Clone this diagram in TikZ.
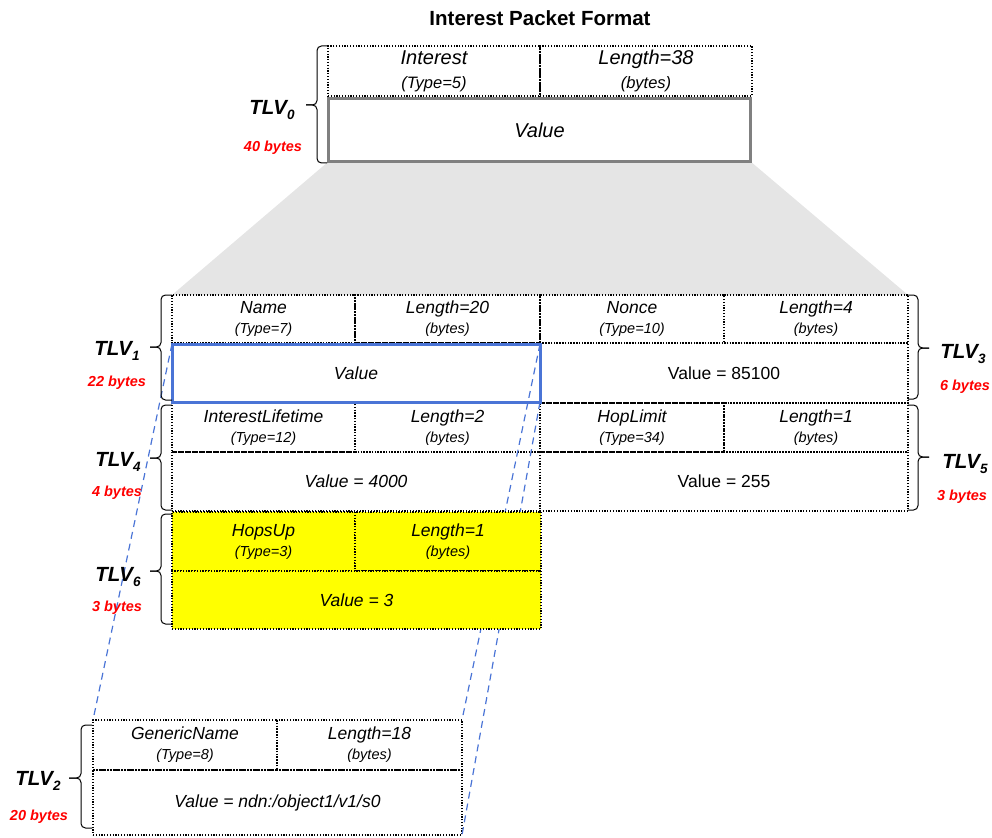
\documentclass[tikz,border=0pt]{standalone}
\usepackage{fontspec}
\setmainfont{Liberation Sans}
\usetikzlibrary{backgrounds}
\definecolor{tlvred}{RGB}{255,0,0}
\definecolor{tlvblue}{RGB}{74,116,214}
\definecolor{tlvgray}{RGB}{128,128,128}
\definecolor{fangray}{RGB}{229,229,229}
\definecolor{hopyellow}{RGB}{255,255,0}
\newcommand\tlvcell[7]{\node[#1, minimum width={(#5-#3)*1pt}, minimum height={(#6-#4)*1pt}] (#2) at ({(#3+#5)/2},{(#4+#6)/2}) {#7};}
\newcommand\tlvsub[1]{\raisebox{-5pt}{\fontsize{13.5}{13.5}\selectfont #1}}
\newcommand\tsmall[1]{{\fontsize{14.5}{14.5}\selectfont #1}}
\newcommand\tsmalltop[1]{{\fontsize{16.5}{16.5}\selectfont #1}}
\newcommand\bracel[6]{% xend xspine xtip ytop ytip ybot
  \draw[bracestyle] (#1,#4) -- (#2,#4) -- (#2,#5) -- (#3,#5);
  \draw[bracestyle] (#1,#6) -- (#2,#6) -- (#2,#5) -- (#3,#5);}
\begin{document}
\begin{tikzpicture}[x=1pt,y=-1pt,
  cellbase/.style={draw, line width=1.2pt, dash pattern=on 1.2pt off 1.6pt, inner sep=0pt, outer sep=0pt, align=center, text=black},
  tophead/.style={cellbase, font=\itshape\fontsize{20}{24}\selectfont},
  midhead/.style={cellbase, font=\itshape\fontsize{17.5}{20}\selectfont},
  midval/.style={cellbase, font=\itshape\fontsize{17.5}{20}\selectfont},
  midvalup/.style={cellbase, font=\fontsize{17.5}{20}\selectfont},
  yelhead/.style={midhead, fill=hopyellow},
  yelval/.style={midval, fill=hopyellow},
  grayval/.style={draw=tlvgray, line width=3.2pt, inner sep=0pt, outer sep=0pt, font=\itshape\fontsize{20}{24}\selectfont},
  bluebox/.style={draw=tlvblue, line width=3pt, inner sep=0pt, outer sep=0pt},
  blueguide/.style={draw=tlvblue, line width=1.2pt, dash pattern=on 7pt off 5pt},
  bracestyle/.style={draw=black, line width=1pt, rounded corners=4.5pt},
  tlvlab/.style={font=\bfseries\itshape\fontsize{20.5}{24}\selectfont, inner sep=0pt},
  byteslab/.style={font=\bfseries\itshape\fontsize{14.5}{16}\selectfont, text=tlvred, inner sep=0pt},
  titlelab/.style={font=\bfseries\fontsize{20.5}{24}\selectfont, inner sep=0pt}
]
\useasboundingbox (0,0) rectangle (992,837);

\node[titlelab] (title) at (540,18) {Interest Packet Format};

% top level TLV0
\tlvcell{tophead}{h0a}{328}{46}{540}{96}{Interest\\\tsmalltop{(Type=5)}}
\tlvcell{tophead}{h0b}{540}{46}{752}{96}{Length=38\\\tsmalltop{(bytes)}}
\tlvcell{grayval}{v0}{328.5}{98.5}{750.5}{161.5}{Value}

% TLV1 and TLV3
\tlvcell{midhead}{n1a}{172}{295}{355}{343}{Name\\\tsmall{(Type=7)}}
\tlvcell{midhead}{n1b}{355}{295}{540}{343}{Length=20\\\tsmall{(bytes)}}
\tlvcell{midval}{v1}{172}{343}{540}{403}{Value}
\tlvcell{midhead}{n3a}{540}{295}{724}{343}{Nonce\\\tsmall{(Type=10)}}
\tlvcell{midhead}{n3b}{724}{295}{908}{343}{Length=4\\\tsmall{(bytes)}}
\tlvcell{midvalup}{v3}{540}{343}{908}{403}{Value = 85100}

% TLV4 and TLV5
\tlvcell{midhead}{n4a}{172}{403}{355}{452}{InterestLifetime\\\tsmall{(Type=12)}}
\tlvcell{midhead}{n4b}{355}{403}{540}{452}{Length=2\\\tsmall{(bytes)}}
\tlvcell{midval}{v4}{172}{452}{540}{511}{Value = 4000}
\tlvcell{midhead}{n5a}{540}{403}{724}{452}{HopLimit\\\tsmall{(Type=34)}}
\tlvcell{midhead}{n5b}{724}{403}{908}{452}{Length=1\\\tsmall{(bytes)}}
\tlvcell{midvalup}{v5}{540}{452}{908}{511}{Value = 255}

% TLV2 (bottom)
\tlvcell{midhead}{n2a}{93}{720}{277}{770}{GenericName\\\tsmall{(Type=8)}}
\tlvcell{midhead}{n2b}{277}{720}{462}{770}{Length=18\\\tsmall{(bytes)}}
\tlvcell{midval}{v2}{93}{770}{462}{835}{Value = ndn:/object1/v1/s0}

% blue highlight of TLV1 value
\tlvcell{bluebox}{bl1}{172}{344}{540}{402}{}

% guide lines
\draw[blueguide] (bl1.north west) -- (n2a.north west);
\draw[blueguide] (bl1.north east) -- (n2b.north east);
\draw[blueguide] (bl1.south east) -- (v2.south east);

% TLV6 (yellow)
\tlvcell{yelhead}{n6a}{172}{512}{355}{571}{HopsUp\\\tsmall{(Type=3)}}
\tlvcell{yelhead}{n6b}{355}{512}{541}{571}{Length=1\\\tsmall{(bytes)}}
\tlvcell{yelval}{v6}{172}{571}{541}{629}{Value = 3}

% fan-out
\begin{scope}[on background layer]
\fill[fangray] (v0.south west) -- (v0.south east) -- (n3b.north east) -- (n1a.north west) -- cycle;
\end{scope}

% braces
\bracel{327}{317}{306}{46}{105}{163}
\bracel{172}{161}{150}{295}{347}{400}
\bracel{172}{161}{150}{405}{458}{510}
\bracel{172}{161}{150}{514}{571}{624}
\bracel{908}{918}{929}{295}{348}{399}
\bracel{908}{918}{929}{405}{457}{510}
\bracel{92}{81}{69}{725}{778}{828}

% labels
\node[tlvlab] (t0) at (272,110) {TLV\tlvsub{0}};
\node[byteslab] (s0) at (273,148) {40 bytes};
\node[tlvlab] (t1) at (117,351) {TLV\tlvsub{1}};
\node[byteslab] (s1) at (117,383) {22 bytes};
\node[tlvlab] (t4) at (118,462) {TLV\tlvsub{4}};
\node[byteslab] (s4) at (117,493) {4 bytes};
\node[tlvlab] (t6) at (118,577) {TLV\tlvsub{6}};
\node[byteslab] (s6) at (117,608) {3 bytes};
\node[tlvlab] (t3) at (963,354) {TLV\tlvsub{3}};
\node[byteslab] (s3) at (965,387) {6 bytes};
\node[tlvlab] (t5) at (965,464) {TLV\tlvsub{5}};
\node[byteslab] (s5) at (962,497) {3 bytes};
\node[tlvlab] (t2) at (38,781) {TLV\tlvsub{2}};
\node[byteslab] (s2) at (39,817) {20 bytes};
\end{tikzpicture}
\end{document}
